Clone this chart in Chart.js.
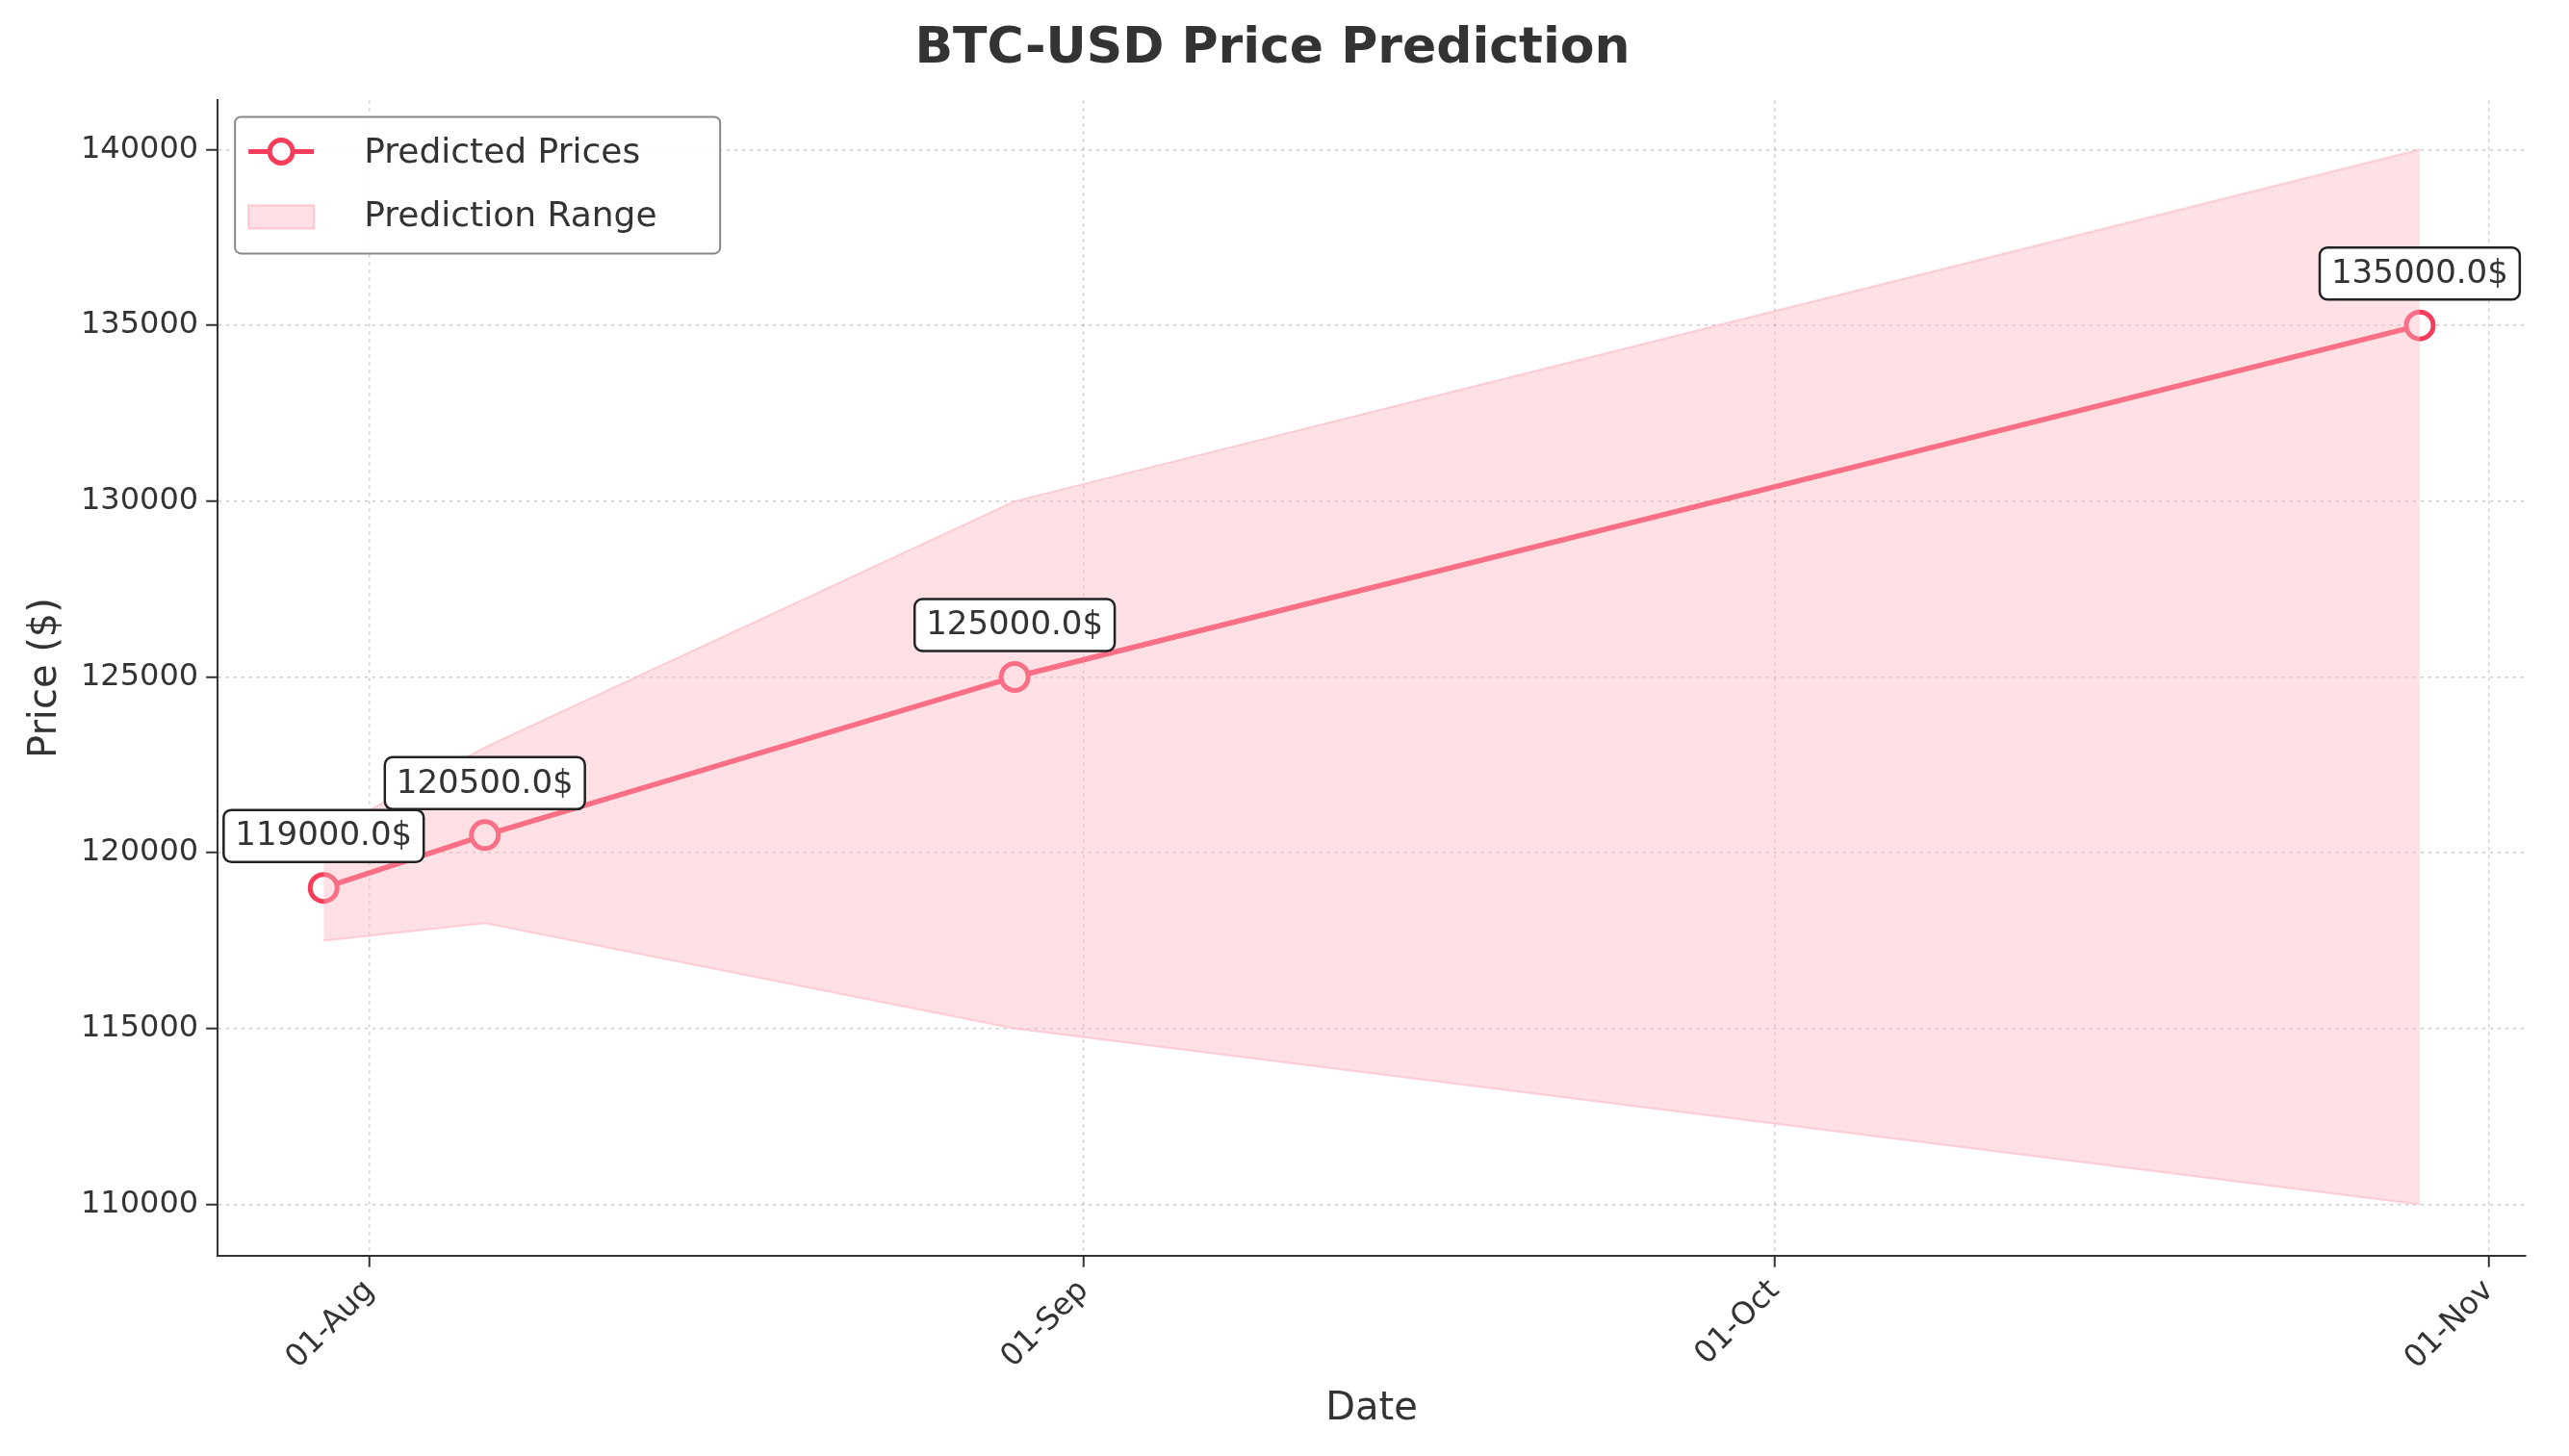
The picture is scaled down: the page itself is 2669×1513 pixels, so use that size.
<!DOCTYPE html>
<html>
<head>
<meta charset="utf-8">
<script src="https://cdn.jsdelivr.net/npm/chart.js@4.4.0/dist/chart.umd.min.js"></script>
<style>
  html, body { margin: 0; padding: 0; background: #fff; }
  #wrap { width: 2669px; height: 1513px; }
</style>
</head>
<body>
<div id="wrap"><canvas id="myChart" width="2669" height="1513"></canvas></div>
<script>
// 데이터
const dates = ['2025-07-30', '2025-08-06', '2025-08-29', '2025-10-29'];
const predicted = [119000, 120500, 125000, 135000];
const lower = [117500, 118000, 115000, 110000];
const upper = [120500, 123000, 130000, 140000];
const tickDates = ['2025-08-01', '2025-09-01', '2025-10-01', '2025-11-01'];
const tickLabels = ['01-Aug', '01-Sep', '01-Oct', '01-Nov'];

const dayNum = s => Date.parse(s) / 86400000;
const xs = dates.map(dayNum);
const tickXs = tickDates.map(dayNum);

const lineColor = '#f73d5a';
const fillColor = 'rgba(255,182,193,0.42)';
const textColor = '#333';

// 점 위에 라벨 박스
const labelPlugin = {
  id: 'labels',
  afterDatasetsDraw(chart) {
    const ctx = chart.ctx;
    const meta = chart.getDatasetMeta(2);
    ctx.save();
    ctx.font = '34px "DejaVu Sans"';
    ctx.textAlign = 'center';
    ctx.textBaseline = 'middle';
    meta.data.forEach((pt, i) => {
      const txt = predicted[i].toFixed(1) + '$';
      const w = ctx.measureText(txt).width + 24;
      const h = 54;
      const cx = pt.x, cy = pt.y - 54;
      ctx.beginPath();
      ctx.roundRect(cx - w / 2, cy - h / 2, w, h, 8);
      ctx.fillStyle = '#fff';
      ctx.fill();
      ctx.lineWidth = 2.5;
      ctx.strokeStyle = '#222';
      ctx.stroke();
      ctx.fillStyle = textColor;
      ctx.fillText(txt, cx, cy + 1);
    });
    ctx.restore();
  }
};

// 범례 (플롯 안쪽 왼쪽 위)
const legendPlugin = {
  id: 'myLegend',
  afterDraw(chart) {
    const ctx = chart.ctx;
    const a = chart.chartArea;
    const x = a.left + 18, y = a.top + 17, w = 504, h = 142;
    ctx.save();
    ctx.beginPath();
    ctx.roundRect(x, y, w, h, 6);
    ctx.fillStyle = 'rgba(255,255,255,0.85)';
    ctx.fill();
    ctx.strokeStyle = '#888';
    ctx.lineWidth = 2;
    ctx.stroke();
    ctx.strokeStyle = lineColor;
    ctx.lineWidth = 5;
    ctx.beginPath();
    ctx.moveTo(x + 14, y + 36); ctx.lineTo(x + 82, y + 36); ctx.stroke();
    ctx.beginPath();
    ctx.arc(x + 48, y + 36, 12, 0, Math.PI * 2);
    ctx.fillStyle = '#fff'; ctx.fill();
    ctx.lineWidth = 5; ctx.stroke();
    ctx.fillStyle = fillColor;
    ctx.fillRect(x + 14, y + 92, 68, 24);
    ctx.strokeStyle = 'rgba(255,182,193,0.7)';
    ctx.lineWidth = 2;
    ctx.strokeRect(x + 14, y + 92, 68, 24);
    ctx.fillStyle = textColor;
    ctx.font = '36px "DejaVu Sans"';
    ctx.textBaseline = 'middle';
    ctx.fillText('Predicted Prices', x + 134, y + 38);
    ctx.fillText('Prediction Range', x + 134, y + 104);
    ctx.restore();
  }
};

const gridOpts = {
  color: 'rgba(0,0,0,0.2)', lineWidth: 1.5,
  drawTicks: true, tickLength: 12, tickColor: '#333', tickWidth: 2
};

const ctx = document.getElementById('myChart');
new Chart(ctx, {
  type: 'line',
  data: {
    datasets: [
      {
        label: 'lower',
        data: xs.map((x, i) => ({ x: x, y: lower[i] })),
        borderColor: 'rgba(255,182,193,0.6)', borderWidth: 2,
        pointRadius: 0, fill: false, tension: 0
      },
      {
        label: 'Prediction Range',
        data: xs.map((x, i) => ({ x: x, y: upper[i] })),
        borderColor: 'rgba(255,182,193,0.6)', borderWidth: 2,
        backgroundColor: fillColor,
        pointRadius: 0, fill: '-1', tension: 0
      },
      {
        label: 'Predicted Prices',
        data: xs.map((x, i) => ({ x: x, y: predicted[i] })),
        borderColor: lineColor, borderWidth: 5.5,
        pointRadius: 14, pointBorderWidth: 5,
        pointBackgroundColor: '#fff', pointBorderColor: lineColor,
        fill: false, tension: 0
      }
    ]
  },
  options: {
    responsive: false,
    animation: false,
    devicePixelRatio: 1,
    layout: { padding: { left: 20, right: 45, top: 0, bottom: 20 } },
    plugins: {
      legend: { display: false },
      tooltip: { enabled: false },
      title: {
        display: true, text: 'BTC-USD Price Prediction',
        color: textColor, font: { family: 'DejaVu Sans', size: 52, weight: 'bold' },
        padding: { top: 20, bottom: 22 }
      }
    },
    scales: {
      x: {
        type: 'linear',
        min: dayNum('2025-07-25') + 0.4,
        max: dayNum('2025-11-02') + 0.6,
        afterBuildTicks: axis => { axis.ticks = tickXs.map(v => ({ value: v })); },
        ticks: {
          callback: v => tickLabels[tickXs.indexOf(v)],
          maxRotation: 45, minRotation: 45,
          color: textColor, font: { family: 'DejaVu Sans', size: 32 }, padding: 6
        },
        grid: gridOpts,
        border: { display: true, color: '#333', width: 2, dash: [3, 5] },
        title: { display: true, text: 'Date', color: textColor, font: { family: 'DejaVu Sans', size: 40 }, padding: { top: 4 } }
      },
      y: {
        min: 108540, max: 141400,
        afterBuildTicks: axis => {
          const t = [];
          for (let v = 110000; v <= 140000; v += 5000) t.push({ value: v });
          axis.ticks = t;
        },
        ticks: {
          callback: v => String(v),
          color: textColor, font: { family: 'DejaVu Sans', size: 32 }, padding: 8
        },
        grid: gridOpts,
        border: { display: true, color: '#333', width: 2, dash: [3, 5] },
        title: { display: true, text: 'Price ($)', color: textColor, font: { family: 'DejaVu Sans', size: 40 } }
      }
    }
  },
  plugins: [labelPlugin, legendPlugin]
});
</script>
</body>
</html>
